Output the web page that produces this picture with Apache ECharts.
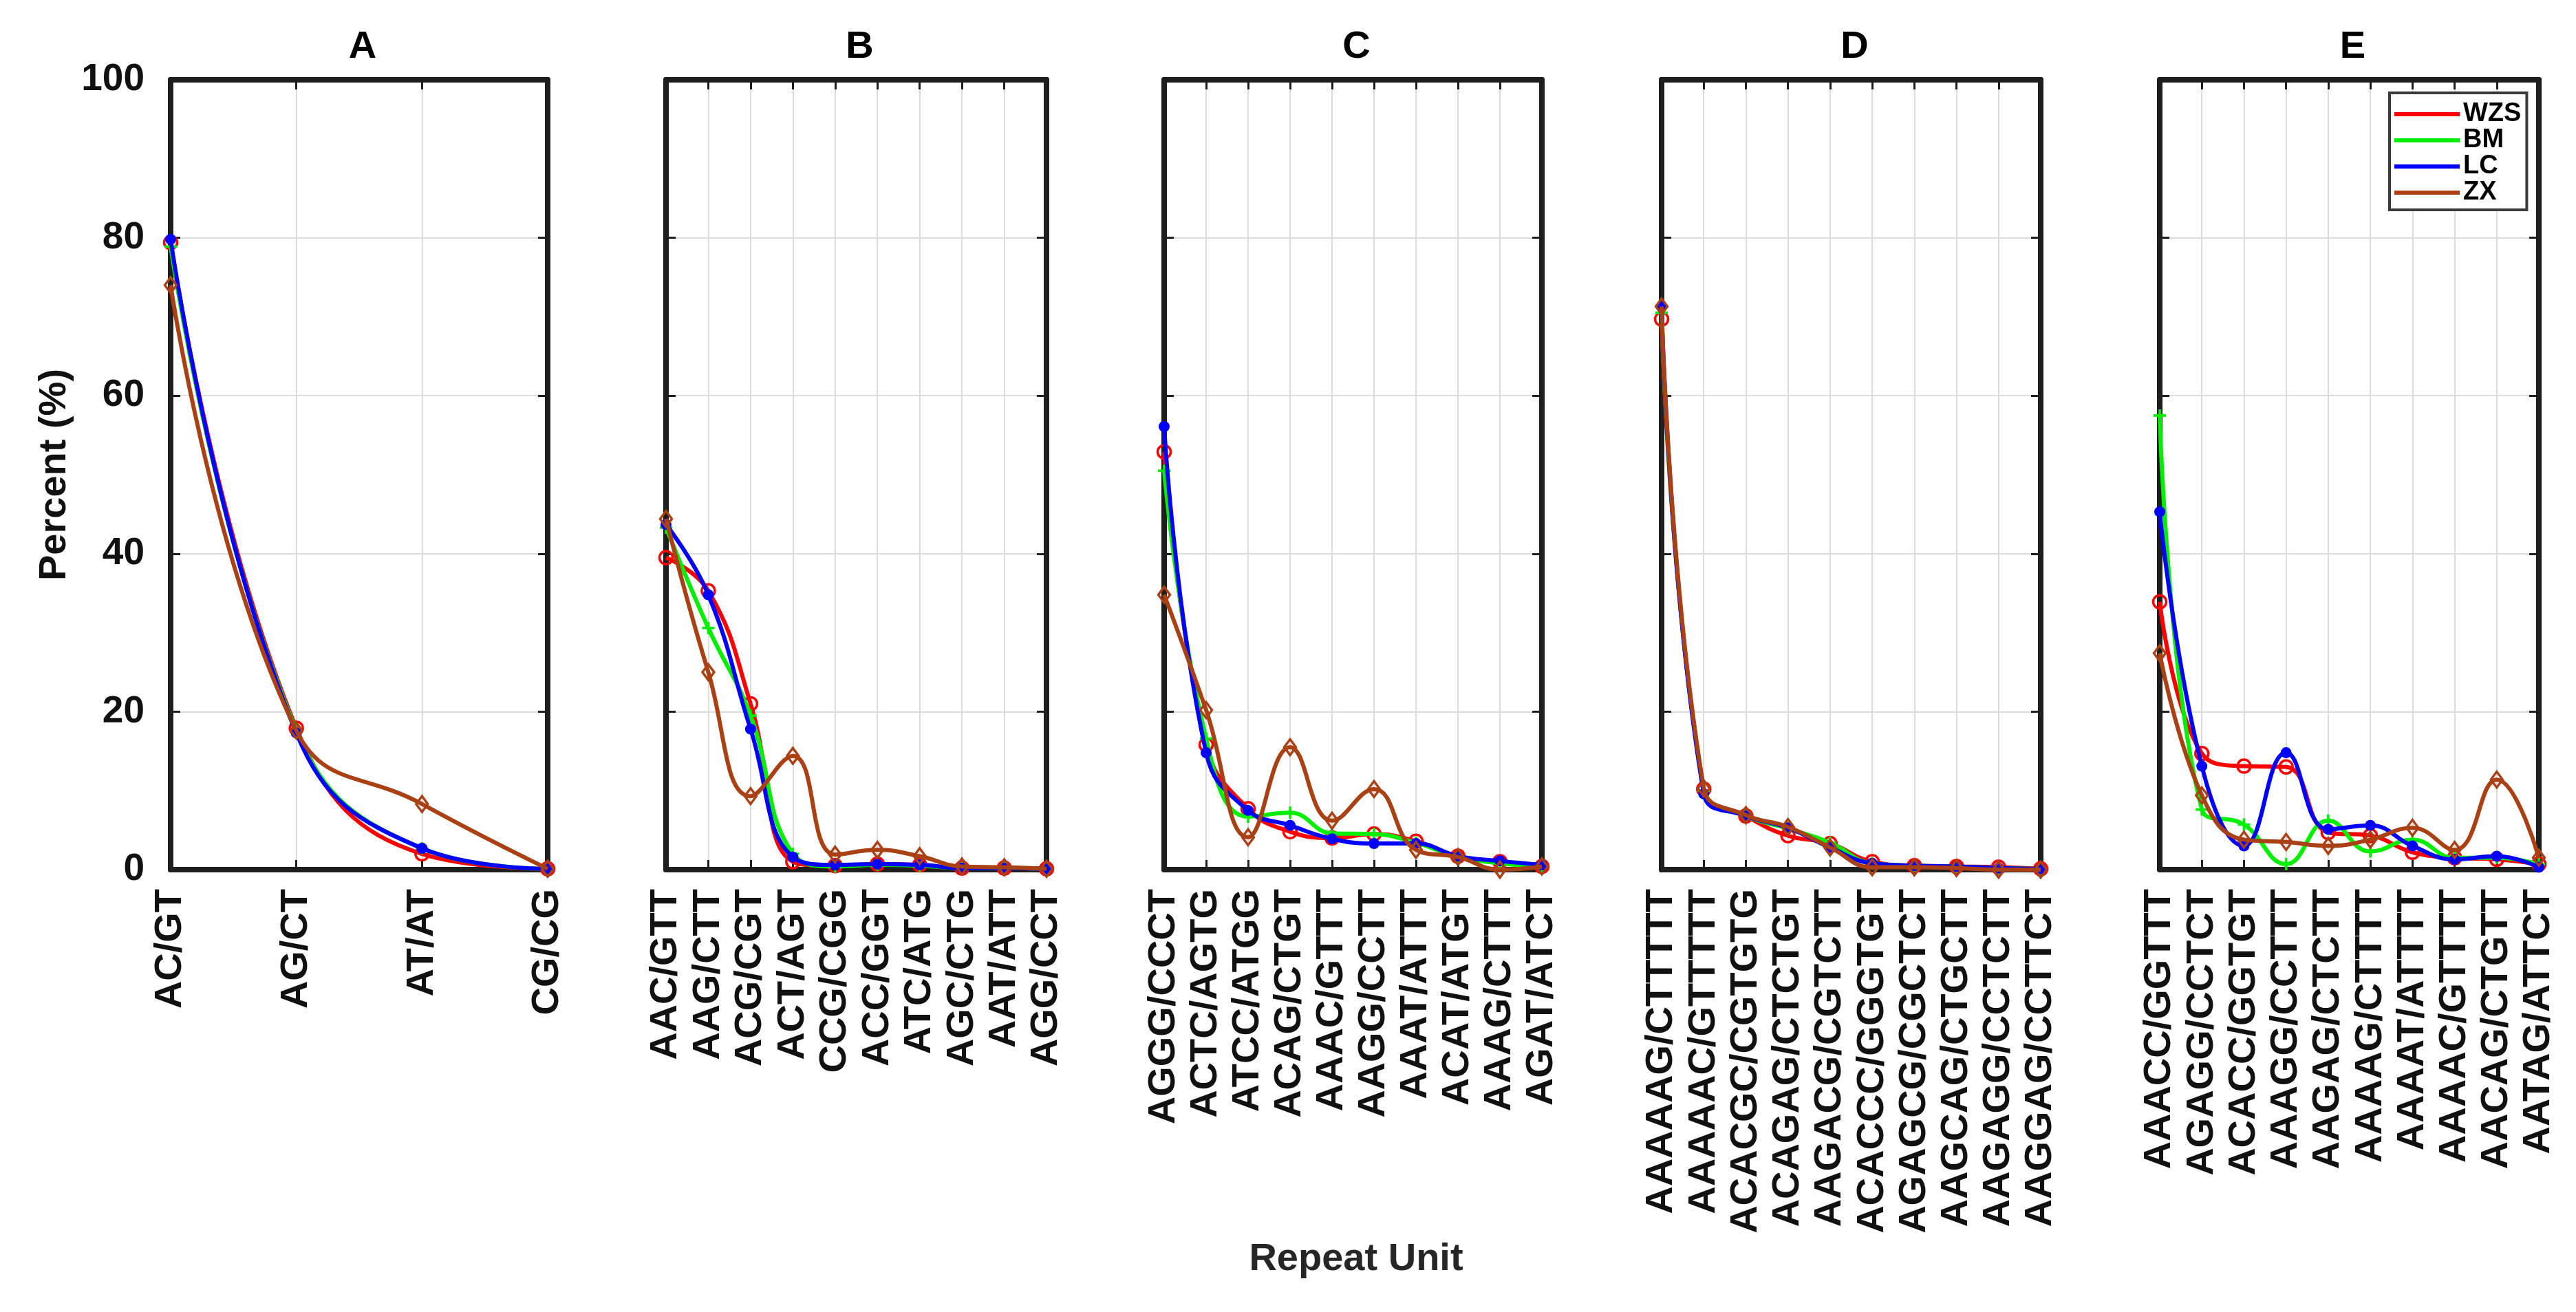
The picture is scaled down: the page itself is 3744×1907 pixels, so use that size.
<!DOCTYPE html>
<html>
<head>
<meta charset="utf-8">
<script src="https://cdn.jsdelivr.net/npm/echarts@6/dist/echarts.min.js"></script>
<style>
html,body{margin:0;padding:0;background:#fff;}
#chart{width:3744px;height:1907px;}
</style>
</head>
<body>
<div id="chart"></div>
<script>
// ---- data ----
const seriesNames = ['WZS', 'BM', 'LC', 'ZX'];
const panelTitles = ['A', 'B', 'C', 'D', 'E'];
const yTicks = [0, 20, 40, 60, 80, 100];

const unitsA = ['AC/GT', 'AG/CT', 'AT/AT', 'CG/CG'];
const wzsA = [79.4, 17.9, 2.0, 0.1];
const bmA  = [78.9, 17.6, 2.7, 0.1];
const lcA  = [79.8, 17.3, 2.7, 0.1];
const zxA  = [74.0, 17.6, 8.3, 0.1];

const unitsB = ['AAC/GTT', 'AAG/CTT', 'ACG/CGT', 'ACT/AGT', 'CCG/CGG', 'ACC/GGT', 'ATC/ATG', 'AGC/CTG', 'AAT/ATT', 'AGG/CCT'];
const wzsB = [39.5, 35.3, 21.0, 1.0, 0.5, 0.7, 0.6, 0.2, 0.2, 0.1];
const bmB  = [43.3, 30.6, 19.5, 2.0, 0.4, 0.6, 0.5, 0.2, 0.2, 0.1];
const lcB  = [43.7, 34.8, 17.8, 1.6, 0.6, 0.7, 0.6, 0.2, 0.2, 0.1];
const zxB  = [44.4, 25.0, 9.3, 14.4, 1.9, 2.5, 1.7, 0.4, 0.3, 0.1];

const unitsC = ['AGGG/CCCT', 'ACTC/AGTG', 'ATCC/ATGG', 'ACAG/CTGT', 'AAAC/GTTT', 'AAGG/CCTT', 'AAAT/ATTT', 'ACAT/ATGT', 'AAAG/CTTT', 'AGAT/ATCT'];
const wzsC = [52.9, 15.8, 7.7, 4.8, 4.0, 4.5, 3.6, 1.7, 1.0, 0.4];
const bmC  = [50.5, 16.6, 6.7, 7.2, 4.6, 4.5, 3.4, 1.6, 0.8, 0.3];
const lcC  = [56.1, 14.8, 7.5, 5.6, 3.9, 3.3, 3.3, 1.7, 1.1, 0.6];
const zxC  = [34.8, 20.2, 4.1, 15.5, 6.2, 10.2, 2.5, 1.6, 0.0, 0.4];

const unitsD = ['AAAAAG/CTTTTT', 'AAAAAC/GTTTTT', 'ACACGC/CGTGTG', 'ACAGAG/CTCTGT', 'AAGACG/CGTCTT', 'ACACCC/GGGTGT', 'AGAGCG/CGCTCT', 'AAGCAG/CTGCTT', 'AAGAGG/CCTCTT', 'AAGGAG/CCTTCT'];
const wzsD = [69.7, 10.2, 6.8, 4.3, 3.3, 1.0, 0.5, 0.4, 0.3, 0.1];
const bmD  = [70.5, 10.0, 6.8, 5.2, 3.4, 0.8, 0.5, 0.4, 0.2, 0.1];
const lcD  = [71.3, 9.6, 6.8, 5.3, 2.8, 0.8, 0.5, 0.4, 0.2, 0.1];
const zxD  = [71.3, 10.3, 6.9, 5.4, 2.8, 0.3, 0.3, 0.2, 0.0, 0.0];

const unitsE = ['AAACC/GGTTT', 'AGAGG/CCTCT', 'ACACC/GGTGT', 'AAAGG/CCTTT', 'AAGAG/CTCTT', 'AAAAG/CTTTT', 'AAAAT/ATTTT', 'AAAAC/GTTTT', 'AACAG/CTGTT', 'AATAG/ATTCT'];
const wzsE = [33.9, 14.7, 13.1, 13.0, 4.7, 4.3, 2.2, 1.5, 1.3, 0.7];
const bmE  = [57.5, 7.6, 5.7, 0.7, 6.2, 2.3, 3.8, 1.5, 1.5, 0.7];
const lcE  = [45.3, 13.1, 3.0, 14.8, 5.1, 5.6, 3.0, 1.3, 1.7, 0.3];
const zxE  = [27.4, 9.4, 3.8, 3.5, 3.0, 3.8, 5.3, 2.5, 11.4, 1.5];

// ---- layout / style ----
const FONT = '"Liberation Sans", Arial, Helvetica, sans-serif';
const AXC = '#1e1e1e';
const colors = ['#ff0000', '#00ee00', '#0000ff', '#aa4114'];
const gridLeft = [248, 968, 1692, 2415, 3139];
const gridRight = [796, 1521, 2241, 2966, 3690];
const gridTop = 116, gridBottom = 1264;

const panels = [
  { cats: unitsA, vals: [wzsA, bmA, lcA, zxA] },
  { cats: unitsB, vals: [wzsB, bmB, lcB, zxB] },
  { cats: unitsC, vals: [wzsC, bmC, lcC, zxC] },
  { cats: unitsD, vals: [wzsD, bmD, lcD, zxD] },
  { cats: unitsE, vals: [wzsE, bmE, lcE, zxE] }
];

const plusPath = 'path://M4,0h2v4h4v2h-4v4h-2v-4h-4v-2h4z';
const symbols = [
  { symbol: 'circle', size: 19, bw: 3.5, hollow: true },
  { symbol: plusPath, size: 18, bw: 0, hollow: false },
  { symbol: 'circle', size: 16, bw: 0, hollow: false },
  { symbol: 'diamond', size: [17, 23], bw: 3.5, hollow: true }
];

const frameLine = { show: true, onZero: false, lineStyle: { color: AXC, width: 8 } };
const tickStyle = { show: true, inside: true, length: 14, lineStyle: { color: AXC, width: 3 } };
const grids = [], xAxes = [], yAxes = [], series = [], titles = [];

panels.forEach((p, i) => {
  grids.push({
    left: gridLeft[i], top: gridTop,
    width: gridRight[i] - gridLeft[i], height: gridBottom - gridTop,
    show: true, borderWidth: 0, backgroundColor: '#fff', containLabel: false
  });
  xAxes.push({
    type: 'category', gridIndex: i, data: p.cats, boundaryGap: false, position: 'bottom',
    axisLine: frameLine,
    axisTick: Object.assign({ interval: 0 }, tickStyle),
    axisLabel: { show: true, interval: 0, rotate: 90, margin: 28, fontSize: 56, fontWeight: 'bold', color: '#111', fontFamily: FONT },
    splitLine: { show: true, interval: 0, lineStyle: { color: '#dcdcdc', width: 2 } }
  });
  xAxes.push({
    type: 'category', gridIndex: i, data: p.cats, boundaryGap: false, position: 'top',
    axisLine: frameLine,
    axisTick: Object.assign({ interval: 0 }, tickStyle),
    axisLabel: { show: false }, splitLine: { show: false }
  });
  yAxes.push({
    type: 'value', gridIndex: i, min: yTicks[0], max: yTicks[yTicks.length - 1], interval: 20, position: 'left',
    name: i === 0 ? 'Percent (%)' : '', nameLocation: 'middle', nameGap: 140,
    nameTextStyle: { fontSize: 56, fontWeight: 'bold', color: '#111', fontFamily: FONT },
    axisLine: frameLine,
    axisTick: tickStyle,
    axisLabel: { show: i === 0, margin: 38, fontSize: 55, fontWeight: 'bold', color: '#111', fontFamily: FONT },
    splitLine: { show: true, lineStyle: { color: '#dcdcdc', width: 2 } }
  });
  yAxes.push({
    type: 'value', gridIndex: i, min: yTicks[0], max: yTicks[yTicks.length - 1], interval: 20, position: 'right',
    axisLine: frameLine,
    axisTick: tickStyle,
    axisLabel: { show: false }, splitLine: { show: false }
  });
  p.vals.forEach((v, k) => {
    const s = symbols[k];
    series.push({
      name: seriesNames[k], type: 'line', xAxisIndex: i * 2, yAxisIndex: i * 2,
      data: v, smooth: 0.45, z: 3 + k,
      symbol: s.symbol, symbolSize: s.size, showAllSymbol: true,
      lineStyle: { color: colors[k], width: 6 },
      itemStyle: { color: s.hollow ? 'rgba(0,0,0,0)' : colors[k], borderColor: colors[k], borderWidth: s.bw },
      emphasis: { disabled: true },
      animation: false
    });
  });
  titles.push({
    text: panelTitles[i], left: (gridLeft[i] + gridRight[i]) / 2, top: 64,
    textAlign: 'center', textVerticalAlign: 'middle',
    textStyle: { fontSize: 56, fontWeight: 'bold', color: '#000', fontFamily: FONT }
  });
});

titles.push({
  text: 'Repeat Unit', left: 1966, top: 1826, textAlign: 'center', textVerticalAlign: 'middle',
  textStyle: { fontSize: 56, fontWeight: 'bold', color: '#262626', fontFamily: FONT }
});

const chart = echarts.init(document.getElementById('chart'), null, { renderer: 'canvas' });
chart.setOption({
  backgroundColor: '#fff',
  animation: false,
  title: titles,
  grid: grids,
  xAxis: xAxes,
  yAxis: yAxes,
  legend: {
    data: seriesNames.map((n, k) => ({ name: n, itemStyle: { color: colors[k], borderWidth: 0 } })),
    orient: 'vertical',
    left: 3473, top: 135,
    icon: 'rect', itemWidth: 95, itemHeight: 6, itemGap: 0,
    padding: [12, 8, 6, 7],
    backgroundColor: '#fff', borderColor: '#3a3a3a', borderWidth: 4, borderRadius: 0,
    textStyle: { fontSize: 38, fontWeight: 'bold', color: '#000', fontFamily: FONT, lineHeight: 38, padding: [0, 0, 0, 0] },
    selectedMode: false
  },
  series: series
});
</script>
</body>
</html>
